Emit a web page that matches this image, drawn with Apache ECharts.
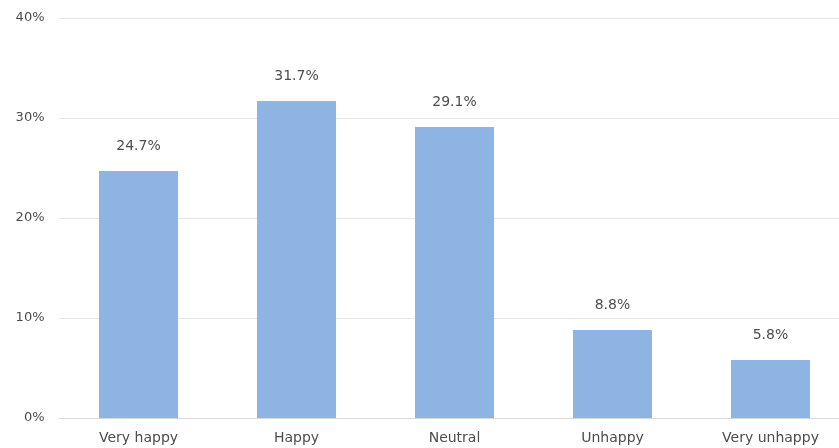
<!DOCTYPE html>
<html>
<head>
<meta charset="utf-8">
<script src="https://cdn.jsdelivr.net/npm/echarts@6/dist/echarts.min.js"></script>
<style>
  html, body { margin: 0; padding: 0; background: #fff; }
  #chart { width: 839px; height: 448px; }
</style>
</head>
<body>
<div id="chart"></div>
<script>
// Survey responses: share of respondents per happiness level
const categories = ['Very happy', 'Happy', 'Neutral', 'Unhappy', 'Very unhappy'];
const shares = [24.7, 31.7, 29.1, 8.8, 5.8];
const yTicks = [0, 10, 20, 30, 40];

const textColor = '#4d4d4d';
const fontFamily = '"DejaVu Sans", sans-serif';

const chart = echarts.init(document.getElementById('chart'), null, { renderer: 'canvas' });
chart.setOption({
  animation: false,
  // plot area runs a little past the right edge of the canvas
  grid: { left: 59.5, width: 790, top: 18, height: 400, containLabel: false, outerBoundsMode: 'none' },
  xAxis: {
    type: 'category',
    data: categories,
    axisLine: { show: true, lineStyle: { color: '#d9d9d9', width: 1 } },
    axisTick: { show: false },
    axisLabel: { color: textColor, fontSize: 14, fontFamily, margin: 13 }
  },
  yAxis: {
    type: 'value',
    min: yTicks[0],
    max: yTicks[yTicks.length - 1],
    interval: 10,
    axisLine: { show: false },
    axisTick: { show: false },
    splitLine: { lineStyle: { color: '#e6e6e6', width: 1 } },
    axisLabel: { color: textColor, fontSize: 13, fontFamily, margin: 15, formatter: v => v + '%' }
  },
  series: [{
    type: 'bar',
    data: shares,
    barWidth: '50%',
    itemStyle: { color: '#8eb4e3' },
    label: {
      show: true,
      position: 'top',
      distance: 18,
      color: textColor,
      fontSize: 14,
      fontFamily,
      formatter: p => p.value.toFixed(1) + '%'
    }
  }]
});
</script>
</body>
</html>
